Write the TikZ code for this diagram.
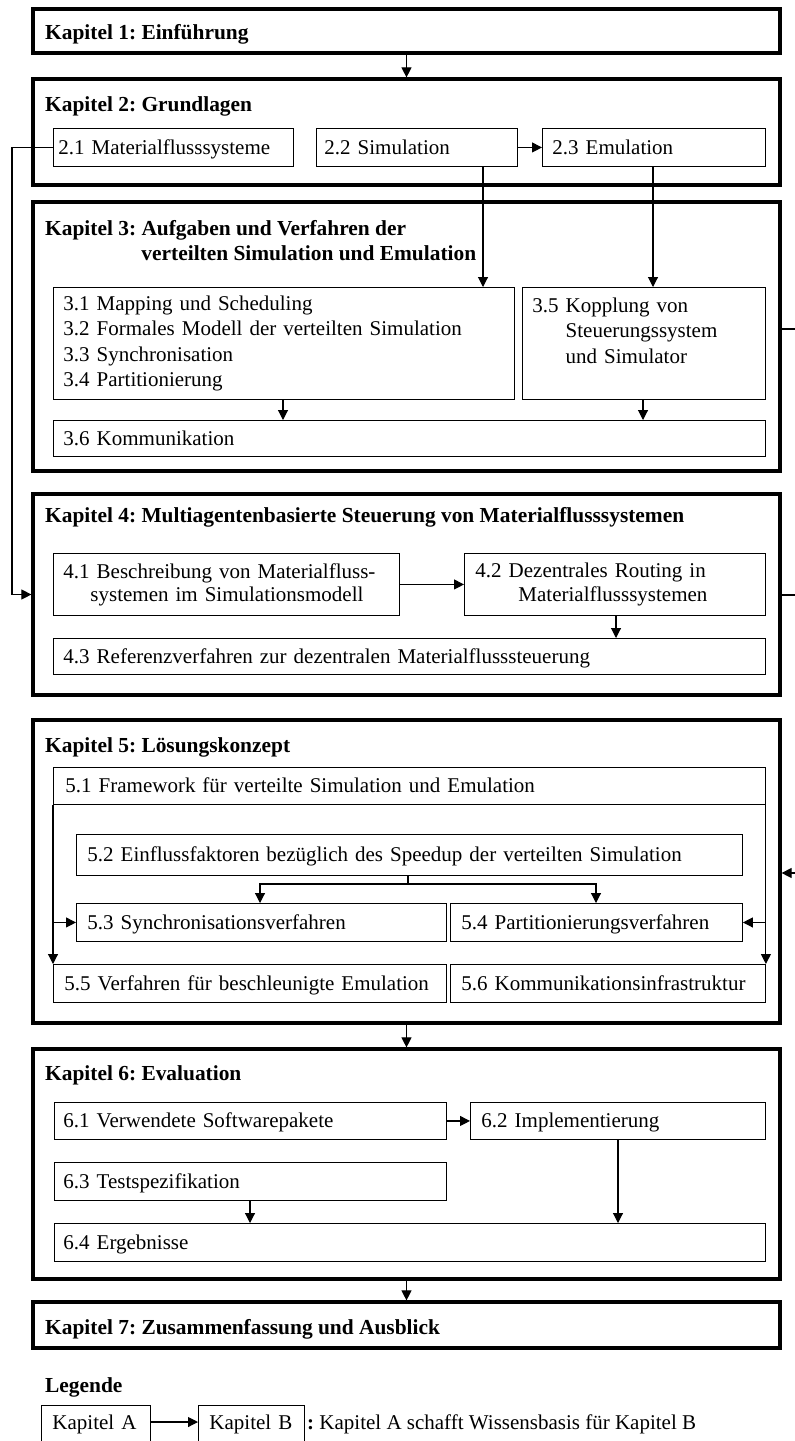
\documentclass[tikz,border=0pt]{standalone}
\usepackage{fontspec}
\setmainfont{Liberation Serif}
\usetikzlibrary{arrows.meta,calc}
\begin{document}
\frenchspacing
\begin{tikzpicture}[x=1pt,y=-1pt,
  chap/.style={draw, line width=3.2pt, minimum width=747pt, inner sep=0pt},
  box/.style={draw, line width=0.9pt, anchor=north west, inner xsep=11pt, inner ysep=0pt, align=left, font=\fontsize{21}{25.5}\selectfont\frenchspacing},
  one/.style={text height=15pt, text depth=1pt},
  ttl/.style={anchor=west, inner sep=0pt, align=left, font=\fontsize{21.4}{25.5}\selectfont\bfseries\frenchspacing},
  conn/.style={line width=1.1pt},
  arr/.style={conn, -{Triangle[width=10pt,length=10pt]}},
]
\path[use as bounding box, fill=white] (0,0) rectangle (795,1441);

% guide coordinates
\coordinate (gL) at (12,0);
\coordinate (g22) at (483,0);
\coordinate (g23) at (653,0);
\coordinate (g31) at (283,0);
\coordinate (g35) at (643,0);
\coordinate (g42) at (616,0);
\coordinate (g52) at (408,884);
\coordinate (g53) at (260,0);
\coordinate (g54) at (596,0);
\coordinate (g63) at (250,0);
\coordinate (g62) at (618,0);
\coordinate (r3) at (800,329);
\coordinate (r4) at (800,595);
\coordinate (r5) at (800,873);
\coordinate (lrow) at (0,1422);

% chapter frames
\node[chap, minimum height=44pt]  (ch1) at (406.5,31) {};
\node[chap, minimum height=106pt] (ch2) at (406.5,132) {};
\node[chap, minimum height=269pt] (ch3) at (406.5,336.5) {};
\node[chap, minimum height=201pt] (ch4) at (406.5,594.5) {};
\node[chap, minimum height=303pt] (ch5) at (406.5,871.5) {};
\node[chap, minimum height=230pt] (ch6) at (406.5,1164) {};
\node[chap, minimum height=46pt]  (ch7) at (406.5,1325) {};

% titles
\node[ttl, one] (t1) at (45,32) {Kapitel 1: Einführung};
\node[ttl, one] (t2) at (45,104) {Kapitel 2: Grundlagen};
\node[ttl, anchor=north west] (t3) at (45,220) {Kapitel 3: Aufgaben und Verfahren der\\\hphantom{Kapitel 3:~}verteilten Simulation und Emulation};
\node[ttl, one] (t4) at (45,515) {Kapitel 4: Multiagentenbasierte Steuerung von Materialflusssystemen};
\node[ttl, one] (t5) at (45,745) {Kapitel 5: Lösungskonzept};
\node[ttl, one] (t6) at (45,1073) {Kapitel 6: Evaluation};
\node[ttl, one] (t7) at (45,1327) {Kapitel 7: Zusammenfassung und Ausblick};

% chapter 2
\node[box, one, inner xsep=5pt, text width=230pt, minimum height=38pt] (n21) at (53,128) {2.1 Materialflusssysteme};
\node[box, one, inner xsep=8pt, text width=185pt, minimum height=38pt] (n22) at (316,128) {2.2 Simulation};
\node[box, one, inner xsep=10pt, text width=203pt, minimum height=38pt] (n23) at (542,128) {2.3 Emulation};

% chapter 3
\node[box, inner xsep=10pt, text width=441pt, minimum height=112pt] (n31) at (53,287) {3.1 Mapping und Scheduling\\3.2 Formales Modell der verteilten Simulation\\3.3 Synchronisation\\3.4 Partitionierung};
\node[box, inner xsep=10pt, text width=223pt, minimum height=112pt] (n35) at (522,287) {3.5 Kopplung von\\\hphantom{3.5~}Steuerungssystem\\\hphantom{3.5~}und Simulator\\\mbox{}};
\node[box, one, inner xsep=10pt, text width=692pt, minimum height=36pt] (n36) at (53,420) {3.6 Kommunikation};

% chapter 4
\node[box, inner xsep=10pt, text width=326pt, minimum height=62pt, font=\fontsize{21}{23}\selectfont\frenchspacing] (n41) at (53,553) {4.1 Beschreibung von Materialfluss-\\\hspace*{27pt}systemen im Simulationsmodell};
\node[box, text width=279pt, minimum height=62pt, font=\fontsize{21}{23.5}\selectfont\frenchspacing] (n42) at (464,553) {4.2 Dezentrales Routing in\\\hspace*{43pt}Materialflusssystemen};
\node[box, one, inner xsep=10pt, text width=692pt, minimum height=36pt] (n43) at (53,638) {4.3 Referenzverfahren zur dezentralen Materialflusssteuerung};

% chapter 5
\node[box, one, inner xsep=12pt, text width=688pt, minimum height=37pt] (n51) at (53,767) {5.1 Framework für verteilte Simulation und Emulation};
\node[box, one, text width=644pt, minimum height=41pt] (n52) at (76,834) {5.2 Einflussfaktoren bezüglich des Speedup der verteilten Simulation};
\node[box, one, text width=348pt, minimum height=38pt] (n53) at (76,903) {5.3 Synchronisationsverfahren};
\node[box, one, text width=270pt, minimum height=38pt] (n54) at (450,903) {5.4 Partitionierungsverfahren};
\node[box, one, inner xsep=11pt, text width=371pt, minimum height=38pt] (n55) at (53,964) {5.5 Verfahren für beschleunigte Emulation};
\node[box, one, inner xsep=11pt, text width=293pt, minimum height=38pt] (n56) at (450,964) {5.6 Kommunikationsinfrastruktur};

% chapter 6
\node[box, one, inner xsep=9pt, text width=374pt, minimum height=37pt] (n61) at (54,1102) {6.1 Verwendete Softwarepakete};
\node[box, one, text width=273pt, minimum height=37pt] (n62) at (470,1102) {6.2 Implementierung};
\node[box, one, inner xsep=9pt, text width=374pt, minimum height=38pt] (n63) at (54,1162) {6.3 Testspezifikation};
\node[box, one, inner xsep=9pt, text width=693pt, minimum height=38pt] (n64) at (54,1223) {6.4 Ergebnisse};

% legend
\node[ttl, one] (leg) at (45,1385) {Legende};
\node[draw, line width=0.9pt, anchor=base west, inner xsep=11pt, inner ysep=4pt, text width=87pt, align=left, text height=20pt, text depth=40pt, font=\fontsize{21}{25.5}\selectfont] (legA) at (41,1429) {Kapitel A};
\node[draw, line width=0.9pt, anchor=base west, inner xsep=11pt, inner ysep=4pt, text width=84pt, align=left, text height=20pt, text depth=40pt, font=\fontsize{21}{25.5}\selectfont] (legB) at (198,1429) {Kapitel B};
\node[anchor=base west, inner sep=0pt, font=\fontsize{21}{25.5}\selectfont\frenchspacing] (legT) at (307,1429) {\textbf{:} Kapitel A schafft Wissensbasis für Kapitel B};
\draw[arr] (legA.east |- lrow) -- (legB.west |- lrow);

% chapter-to-chapter
\draw[arr] (ch1.south) -- (ch2.north);
\draw[arr] (ch5.south) -- (ch6.north);
\draw[arr] (ch6.south) -- (ch7.north);

% chapter 2 connectors
\draw[arr] (n22.east) -- (n23.west);
\draw[arr] (n21.west) -- (n21.west -| gL) |- (ch4.west);
\draw[arr] (n22.south -| g22) -- (n31.north -| g22);
\draw[arr] (n23.south -| g23) -- (n35.north -| g23);

% chapter 3
\draw[arr] (n31.south -| g31) -- (n36.north -| g31);
\draw[arr] (n35.south -| g35) -- (n36.north -| g35);
\draw[conn] (ch3.east |- r3) -- (r3);

% chapter 4
\draw[arr] (n41.east) -- (n42.west);
\draw[arr] (n42.south -| g42) -- (n43.north -| g42);
\draw[conn] (ch4.east |- r4) -- (r4);

% chapter 5
\draw[arr] (r5) -- (ch5.east |- r5);
\draw[conn] (n52.south -| g52) -- (g52);
\draw[arr] (g52) -| (n53.north -| g53);
\draw[arr] (g52) -| (n54.north -| g54);
\draw[arr] (n51.south west) -- (n55.north west);
\draw[arr] (n51.south west |- n53.west) -- (n53.west);
\draw[arr] (n51.south east) -- (n56.north east);
\draw[arr] (n51.south east |- n54.east) -- (n54.east);

% chapter 6
\draw[arr] (n61.east) -- (n62.west);
\draw[arr] (n63.south -| g63) -- (n64.north -| g63);
\draw[arr] (n62.south -| g62) -- (n64.north -| g62);
\end{tikzpicture}
\end{document}
